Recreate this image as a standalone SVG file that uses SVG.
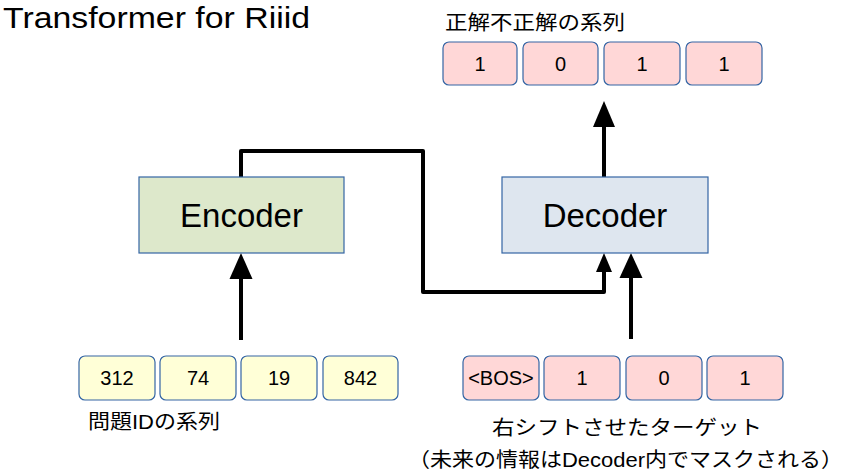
<svg xmlns="http://www.w3.org/2000/svg" width="846" height="472" viewBox="0 0 846 472">
<style>
.t{font-family:"Liberation Sans",Arial,sans-serif;fill:#000}
.j{font-family:"Liberation Sans","Noto Sans CJK JP",sans-serif;fill:#000}
.cell{stroke:#3465a4;stroke-width:1.2}
.pink{fill:#ffd7d7}
.yel{fill:#ffffd7}
.num{font-family:"Liberation Sans",Arial,sans-serif;font-size:20px;text-anchor:middle;fill:#000}
.blk{fill:none;stroke:#3465a4;stroke-width:1.2}
.ln{fill:none;stroke:#000;stroke-width:4;stroke-linejoin:round}
.ah{fill:#000}
</style>
<rect width="846" height="472" fill="#fff"/>
<text class="t" x="3" y="28" font-size="30" textLength="307" lengthAdjust="spacingAndGlyphs">Transformer for Riiid</text>

<g id="connectors">
<path class="ln" d="M241 177 V151 H423 V292 H604 V270"/>
<polygon class="ah" points="604,253 596,272 612,272"/>
<path class="ln" d="M241 340 V276"/>
<polygon class="ah" points="241,253 229.5,279 252.5,279"/>
<path class="ln" d="M631 339 V275"/>
<polygon class="ah" points="631,253 619.5,278 642.5,278"/>
<path class="ln" d="M604 177 V124"/>
<polygon class="ah" points="604,101 593,127 615,127"/>
</g>

<g id="encoder">
<rect class="blk" x="139" y="177" width="205" height="76" style="fill:#dde8cb"/>
<text class="t" x="241.5" y="227" font-size="33" text-anchor="middle">Encoder</text>
</g>
<g id="decoder">
<rect class="blk" x="502" y="177" width="206" height="76" style="fill:#dee6ef"/>
<text class="t" x="605" y="227" font-size="33" text-anchor="middle">Decoder</text>
</g>

<g id="target-seq">
<text class="j" x="445" y="30" font-size="20" textLength="180" lengthAdjust="spacingAndGlyphs">正解不正解の系列</text>
<rect class="cell pink" x="443" y="42" width="74" height="43" rx="6"/>
<text class="num" x="480" y="71">1</text>
<rect class="cell pink" x="523" y="42" width="75" height="43" rx="6"/>
<text class="num" x="560.5" y="71">0</text>
<rect class="cell pink" x="604" y="42" width="76" height="43" rx="6"/>
<text class="num" x="642" y="71">1</text>
<rect class="cell pink" x="686" y="42" width="76" height="43" rx="6"/>
<text class="num" x="724" y="71">1</text>
</g>

<g id="question-seq">
<rect class="cell yel" x="79" y="356" width="76" height="44" rx="6"/>
<text class="num" x="117" y="385">312</text>
<rect class="cell yel" x="160" y="356" width="76" height="44" rx="6"/>
<text class="num" x="198" y="385">74</text>
<rect class="cell yel" x="241" y="356" width="76" height="44" rx="6"/>
<text class="num" x="279" y="385">19</text>
<rect class="cell yel" x="323" y="356" width="75" height="44" rx="6"/>
<text class="num" x="360.5" y="385">842</text>
<text class="j" x="88" y="429" font-size="20" textLength="132" lengthAdjust="spacingAndGlyphs">問題IDの系列</text>
</g>

<g id="shifted-seq">
<rect class="cell pink" x="463" y="356" width="76" height="44" rx="6"/>
<text class="num" x="501" y="385">&lt;BOS&gt;</text>
<rect class="cell pink" x="544" y="356" width="76" height="44" rx="6"/>
<text class="num" x="582" y="385">1</text>
<rect class="cell pink" x="626" y="356" width="76" height="44" rx="6"/>
<text class="num" x="664" y="385">0</text>
<rect class="cell pink" x="707" y="356" width="76" height="44" rx="6"/>
<text class="num" x="745" y="385">1</text>
<text class="j" x="492" y="435" font-size="20" textLength="270" lengthAdjust="spacingAndGlyphs">右シフトさせたターゲット</text>
<text class="j" x="408" y="467" font-size="20" textLength="435" lengthAdjust="spacingAndGlyphs">（未来の情報はDecoder内でマスクされる）</text>
</g>
</svg>
